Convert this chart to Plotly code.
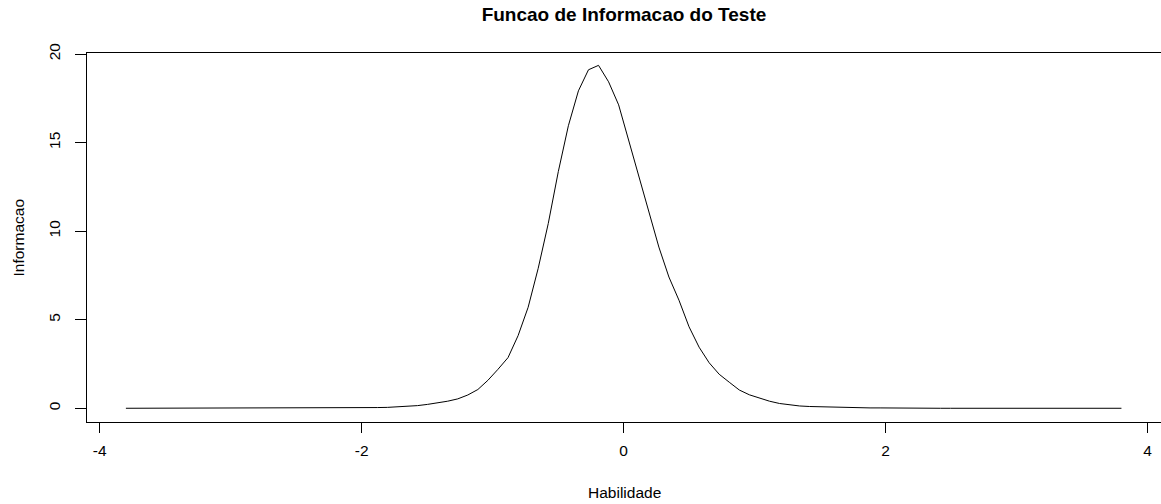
import plotly.graph_objects as go

# Ability grid: seq(-3.8, 3.8, length = 100)
n_points = 100
theta_min, theta_max = -3.8, 3.8
habilidade = [theta_min + i * (theta_max - theta_min) / (n_points - 1) for i in range(n_points)]

# Test information values (one per grid point)
informacao = [
    0.0, 0.0, 0.0, 0.0, 0.0, 0.0, 0.0, 0.0, 0.0, 0.0,
    0.0, 0.0, 0.0, 0.0, 0.0, 0.0, 0.0, 0.0, 0.01, 0.01,
    0.01, 0.02, 0.02, 0.03, 0.03, 0.04, 0.05, 0.07, 0.10, 0.15,
    0.22, 0.30, 0.40, 0.53, 0.75, 1.06, 1.58, 2.20, 2.86, 4.10,
    5.70, 7.90, 10.43, 13.36, 15.95, 17.92, 19.11, 19.36, 18.43, 17.13,
    15.10, 13.18, 11.20, 9.10, 7.41, 6.10, 4.60, 3.45, 2.57, 1.92,
    1.47, 1.03, 0.76, 0.57, 0.40, 0.27, 0.18, 0.13, 0.10, 0.08,
    0.06, 0.05, 0.04, 0.03, 0.02, 0.02, 0.01, 0.01, 0.01, 0.0,
    0.0, 0.0, 0.0, 0.0, 0.0, 0.0, 0.0, 0.0, 0.0, 0.0,
    0.0, 0.0, 0.0, 0.0, 0.0, 0.0, 0.0, 0.0, 0.0, 0.0,
]

x_ticks = [-4, -2, 0, 2, 4]
y_ticks = [0, 5, 10, 15, 20]

titulo = "Funcao de Informacao do Teste"
x_titulo = "Habilidade"
y_titulo = "Informacao"

FONT = "Liberation Sans, Arial, sans-serif"

fig = go.Figure()
fig.add_trace(go.Scatter(
    x=habilidade, y=informacao, mode="lines",
    line=dict(color="black", width=1),
    hoverinfo="x+y", showlegend=False,
))

fig.update_layout(
    width=1161, height=504,
    margin=dict(l=87, r=0, t=53, b=82),
    paper_bgcolor="white", plot_bgcolor="white",
    font=dict(family=FONT, size=15.5, color="black"),
    title=dict(
        text="<b>" + titulo + "</b>",
        x=(87 + 1161) / 2 / 1161, xanchor="center",
        y=1 - 14 / 504, yanchor="middle",
        font=dict(family=FONT, size=19, color="black"),
    ),
    xaxis=dict(
        range=[-4.097, 4.102], tickmode="array", tickvals=x_ticks,
        ticktext=[str(v) for v in x_ticks],
        showgrid=False, zeroline=False,
        showline=True, mirror=True, linecolor="black", linewidth=1,
        ticks="outside", ticklen=10, tickwidth=1, tickcolor="black",
        ticklabelstandoff=4,
    ),
    yaxis=dict(
        range=[-0.775, 20.057], tickmode="array", tickvals=y_ticks,
        ticktext=[str(v) for v in y_ticks],
        showgrid=False, zeroline=False,
        showline=True, mirror=False, linecolor="black", linewidth=1,
        ticks="outside", ticklen=11, tickwidth=1, tickcolor="black",
        tickangle=-90, ticklabelstandoff=9,
    ),
    annotations=[
        dict(text=x_titulo, xref="paper", yref="paper", x=0.5, y=0,
             xanchor="center", yanchor="middle", yshift=-70, showarrow=False,
             font=dict(family=FONT, size=15.5, color="black")),
        dict(text=y_titulo, xref="paper", yref="paper", x=0, y=0.5,
             xanchor="center", yanchor="middle", xshift=-69, textangle=-90,
             showarrow=False, font=dict(family=FONT, size=15.5, color="black")),
    ],
)

fig.write_html("out.html", config={"displayModeBar": False},
               post_script="document.body.style.margin='0';")
